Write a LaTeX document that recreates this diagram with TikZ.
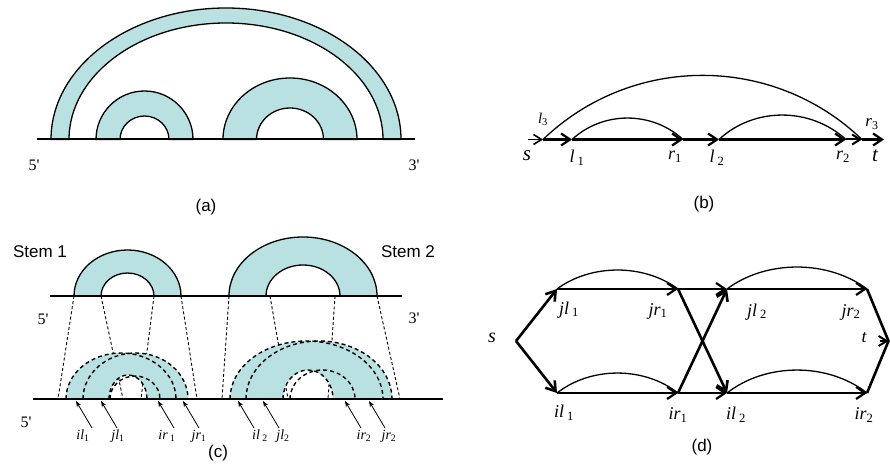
\documentclass[tikz,border=0pt]{standalone}
\usepackage{fontspec}
\setmainfont{Liberation Serif}
\setsansfont{Liberation Sans}
\usetikzlibrary{arrows.meta}
\definecolor{stemfill}{RGB}{186,225,226}
\newcommand\semiring[7][]{%
  \filldraw[ann,#1] (#2-#4,#3) arc[start angle=180,end angle=360,x radius=#4,y radius=#5]
    -- (#2+#6,#3) arc[start angle=360,end angle=180,x radius=#6,y radius=#7] -- cycle;}
\newcommand\pr{\textquotesingle}
\begin{document}
\begin{tikzpicture}[x=1pt,y=-1pt,
  ann/.style={fill=stemfill,draw=black,line width=1.3pt},
  base/.style={line width=2pt},
  dsh/.style={dash pattern=on 4pt off 3pt,line width=1.4pt},
  proj/.style={dash pattern=on 3pt off 2.2pt,line width=0.9pt},
  arcline/.style={line width=1.3pt},
  barrow/.style={line width=2.2pt,-{Straight Barb[length=9pt,width=12pt]}},
  darrow/.style={line width=2.6pt,-{Straight Barb[length=9pt,width=12pt]}},
  tarrow/.style={line width=1.6pt,-{Straight Barb[length=8pt,width=10pt]}},
  parrow/.style={line width=0.8pt,-{Stealth[length=6pt,width=4.5pt]}},
  capt/.style={font=\sffamily\fontsize{17}{17}\selectfont,inner sep=0pt},
  stemlbl/.style={font=\sffamily\fontsize{17}{17}\selectfont,inner sep=0pt},
  prime/.style={font=\fontsize{16}{16}\selectfont,inner sep=0pt},
  lbl/.style={font=\fontsize{18}{18}\selectfont,inner sep=0pt},
  biglbl/.style={font=\fontsize{21}{21}\selectfont\itshape,inner sep=0pt},
  smlbl/.style={font=\fontsize{14}{14}\selectfont,inner sep=0pt}]
\useasboundingbox (0,0) rectangle (890,465);

% ---------------- (a)
\semiring{226}{139.5}{175}{131.5}{157}{116.5}
\semiring{144.5}{139.5}{48.5}{48.5}{24.5}{23.5}
\semiring{290}{139.5}{67}{61.5}{33.5}{31.5}
\draw[base] (37,139.5) -- (415,139.5);
\node[prime] (a5) at (34,165) {5\pr};
\node[prime] (a3) at (414,165) {3\pr};
\node[capt] (acap) at (206,207) {(a)};

% ---------------- (b)
\coordinate (bs) at (528,139.5);
\coordinate (bl3) at (543,139.5);
\coordinate (bl1) at (572,139.5);
\coordinate (br1) at (683,139.5);
\coordinate (bl2) at (719,139.5);
\coordinate (br2) at (846,139.5);
\coordinate (br3) at (862,139.5);
\coordinate (bt) at (884,139.5);
\draw[arcline] (bl3) .. controls (632,54) and (773,54) .. (br3);
\draw[arcline] (bl1) .. controls (603,110.9) and (652,110.9) .. (br1);
\draw[arcline] (bl2) .. controls (754,106.9) and (810,106.9) .. (br2);
\draw[tarrow] (bs) -- (bl3);
\draw[barrow] (bl3) -- (bl1);
\draw[barrow] (bl1) -- (br1);
\draw[barrow] (br1) -- (bl2);
\draw[barrow] (bl2) -- (br2);
\draw[tarrow,line width=2pt] (br2) -- (br3);
\draw[barrow] (br3) -- (bt);
\node[biglbl] (bsl) at (527,156) {s};
\node[lbl] (bl1l) at (577,158) {\textit{l}\,\textsubscript{1}};
\node[lbl] (br1l) at (675,157) {\textit{r}\textsubscript{1}};
\node[lbl] (bl2l) at (717,158) {\textit{l}\,\textsubscript{2}};
\node[lbl] (br2l) at (843,157) {\textit{r}\textsubscript{2}};
\node[biglbl] (btl) at (875,156) {t};
\node[lbl,font=\fontsize{15}{15}\selectfont] (bl3l) at (543,119) {\textit{l}\textsubscript{3}};
\node[lbl,font=\fontsize{17}{17}\selectfont] (br3l) at (872,124) {\textit{r}\textsubscript{3}};
\node[capt] (bcap) at (704,204) {(b)};

% ---------------- (c)
% projection lines
\draw[proj] (74,296) -- (58,399);
\draw[proj] (101,296) -- (123,399);
\draw[proj] (154,296) -- (141,399);
\draw[proj] (181,296) -- (197,399);
\draw[proj] (229,296) -- (222,399);
\draw[proj] (270,296) -- (288,399);
\draw[proj] (335,296) -- (328,399);
\draw[proj] (377,296) -- (400,399);
% top stems
\semiring{127.5}{296}{53.5}{46}{26.5}{23}
\semiring{303}{296}{74}{59}{37}{31}
\draw[base] (50,296) -- (402,296);
% lower stem 1
\fill[stemfill,even odd rule] (66,399) arc[start angle=180,end angle=360,x radius=55,y radius=46] -- cycle
  (109,399) arc[start angle=180,end angle=360,x radius=19,y radius=24] -- cycle;
\fill[stemfill,even odd rule] (83,399) arc[start angle=180,end angle=360,x radius=52.5,y radius=46] -- cycle
  (109,399) arc[start angle=180,end angle=360,x radius=19,y radius=24] -- cycle;
\draw[dsh] (66,399) arc[start angle=180,end angle=360,x radius=55,y radius=46];
\draw[dsh] (83,399) arc[start angle=180,end angle=360,x radius=52.5,y radius=46];
\draw[dsh] (109,399) arc[start angle=180,end angle=360,x radius=19,y radius=24];
\draw[dsh] (110,399) arc[start angle=180,end angle=360,x radius=25,y radius=23];
% lower stem 2
\fill[stemfill,even odd rule] (230,399) arc[start angle=180,end angle=360,x radius=76.5,y radius=58] -- cycle
  (283,399) arc[start angle=180,end angle=360,x radius=25,y radius=29] -- cycle;
\fill[stemfill,even odd rule] (246,399) arc[start angle=180,end angle=360,x radius=73,y radius=58] -- cycle
  (283,399) arc[start angle=180,end angle=360,x radius=25,y radius=29] -- cycle;
\draw[dsh] (230,399) arc[start angle=180,end angle=360,x radius=76.5,y radius=58];
\draw[dsh] (246,399) arc[start angle=180,end angle=360,x radius=73,y radius=58];
\draw[dsh] (283,399) arc[start angle=180,end angle=360,x radius=25,y radius=29];
\draw[dsh] (290,399) arc[start angle=180,end angle=360,x radius=32.5,y radius=29];
\draw[base] (33,399) -- (443,399);
% pointers
\foreach \n/\x in {il1/76,jl1/101,ir1/158,jr1/183,il2/238,jl2/263,ir2/345,jr2/369}{
  \coordinate (tip\n) at (\x,401);
  \coordinate (tail\n) at (\x+16,428);
  \draw[parrow] (tail\n) -- (tip\n);
}
\node[smlbl] (cil1) at (83,436) {\textit{il}\textsubscript{1}};
\node[smlbl] (cjl1) at (118,436) {\textit{jl}\textsubscript{1}};
\node[smlbl] (cir1) at (167,436) {\textit{ir}\,\textsubscript{1}};
\node[smlbl] (cjr1) at (199,436) {\textit{jr}\textsubscript{1}};
\node[smlbl] (cil2) at (260,436) {\textit{il}\,\textsubscript{2}};
\node[smlbl] (cjl2) at (283,436) {\textit{jl}\textsubscript{2}};
\node[smlbl] (cir2) at (364,436) {\textit{ir}\textsubscript{2}};
\node[smlbl] (cjr2) at (389,436) {\textit{jr}\textsubscript{2}};
\node[stemlbl] (stem1) at (40,252) {Stem 1};
\node[stemlbl] (stem2) at (408,252) {Stem 2};
\node[prime] (c5a) at (43,319) {5\pr};
\node[prime] (c3a) at (414,318) {3\pr};
\node[prime] (c5b) at (26,422) {5\pr};
\node[capt] (ccap) at (218,453) {(c)};

% ---------------- (d)
\coordinate (ds) at (516,341);
\coordinate (djl1) at (557,289);
\coordinate (dil1) at (557,393);
\coordinate (djr1) at (678,289);
\coordinate (dir1) at (678,393);
\coordinate (djl2) at (727,289);
\coordinate (dil2) at (727,393);
\coordinate (djr2) at (867,289);
\coordinate (dir2) at (867,393);
\coordinate (dt) at (888.5,341);
\coordinate (dtp) at (880,341);
\draw[arcline] (djl1) .. controls (591,263.7) and (644,263.7) .. (djr1);
\draw[arcline] (djl2) .. controls (766,259.7) and (828,259.7) .. (djr2);
\draw[arcline] (dil1) .. controls (591,366.4) and (644,366.4) .. (dir1);
\draw[arcline] (dil2) .. controls (766,362.4) and (828,362.4) .. (dir2);
\draw[darrow] (ds) -- (djl1);
\draw[darrow] (ds) -- (dil1);
\draw[barrow] (djl1) -- (djr1);
\draw[barrow] (dil1) -- (dir1);
\draw[barrow] (djr1) -- (djl2);
\draw[barrow] (dir1) -- (dil2);
\draw[darrow] (djr1) -- (dil2);
\draw[darrow] (dir1) -- (djl2);
\draw[barrow] (djl2) -- (djr2);
\draw[barrow] (dil2) -- (dir2);
\draw[line width=2.6pt,line join=miter] (djr2) -- (dt) -- (dir2);
\draw[tarrow,line width=2pt] (dtp) -- (dt);
\node[biglbl,font=\fontsize{20}{20}\selectfont\itshape] (dsl) at (492,338) {s};
\node[lbl] (djl1l) at (569,310) {\textit{jl}\,\textsubscript{1}};
\node[lbl] (djr1l) at (658,311) {\textit{jr}\textsubscript{1}};
\node[lbl] (djl2l) at (757,312) {\textit{jl}\,\textsubscript{2}};
\node[lbl] (djr2l) at (851,312) {\textit{jr}\textsubscript{2}};
\node[lbl,font=\fontsize{18}{18}\selectfont\itshape] (dtl) at (864,338) {t};
\node[lbl] (dil1l) at (564,413) {\textit{il}\,\textsubscript{1}};
\node[lbl] (dir1l) at (678,415) {\textit{ir}\textsubscript{1}};
\node[lbl] (dil2l) at (736,415) {\textit{il}\,\textsubscript{2}};
\node[lbl] (dir2l) at (864,415) {\textit{ir}\textsubscript{2}};
\node[capt] (dcap) at (702,447) {(d)};
\end{tikzpicture}
\end{document}
